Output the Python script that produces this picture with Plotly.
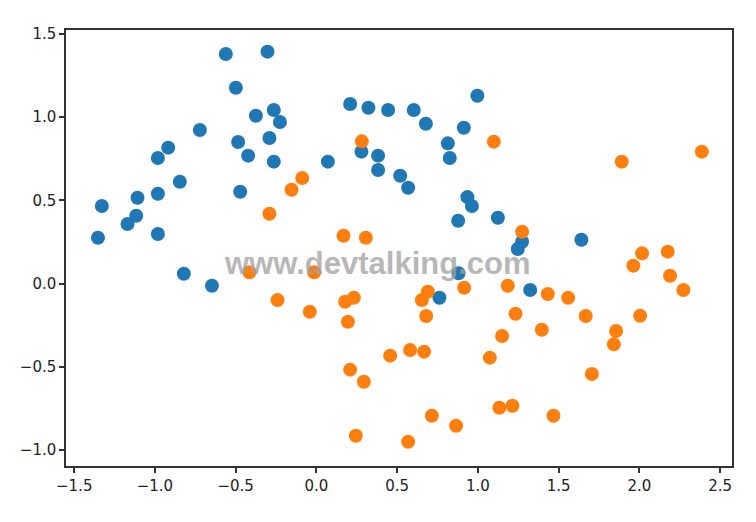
import plotly.graph_objects as go

blue_x = [-0.561, -0.303, -0.499, 0.209, 0.322, 0.444, -0.375, -0.264, -0.226, -0.722,
          -0.485, -0.291, -0.423, -0.264, 0.071, 0.279, 0.382, 0.382, 0.519, -0.918,
          -0.982, -0.846, -0.472, -0.982, -1.108, -1.329, -1.116, -1.170, -1.353, -0.982,
          0.997, 0.603, 0.678, 0.913, 0.814, 0.826, 0.568, 0.935, 0.963, 0.878,
          1.124, 1.274, 1.247, 1.641, 0.880, 0.762, 1.324, -0.821, -0.647]
blue_y = [1.380, 1.394, 1.177, 1.079, 1.057, 1.043, 1.009, 1.043, 0.971, 0.923,
          0.851, 0.875, 0.769, 0.733, 0.733, 0.793, 0.769, 0.683, 0.648, 0.817,
          0.755, 0.612, 0.552, 0.540, 0.516, 0.466, 0.408, 0.358, 0.276, 0.298,
          1.129, 1.043, 0.961, 0.937, 0.843, 0.755, 0.576, 0.520, 0.466, 0.378,
          0.396, 0.252, 0.208, 0.264, 0.062, -0.085, -0.038, 0.059, -0.013]

orange_x = [0.281, -0.088, -0.154, -0.291, 0.168, 0.306, 1.099, 1.891, 2.387, 1.274,
            2.017, 2.176, 1.963, 2.190, 2.273, 2.005, 0.690, 0.653, 0.680, 0.915,
            1.185, 1.433, 1.559, 1.233, 1.668, 1.396, 1.150, 1.856, 1.842, 0.457,
            0.580, 0.667, 1.074, 1.706, 1.133, 1.214, 1.468, 0.715, 0.865, 0.568,
            -0.415, -0.014, -0.241, -0.041, 0.178, 0.232, 0.195, 0.209, 0.294, 0.244]
orange_y = [0.855, 0.635, 0.564, 0.420, 0.288, 0.276, 0.853, 0.733, 0.793, 0.312,
            0.182, 0.192, 0.108, 0.047, -0.038, -0.193, -0.049, -0.099, -0.195, -0.025,
            -0.013, -0.063, -0.085, -0.181, -0.195, -0.277, -0.315, -0.285, -0.365, -0.433,
            -0.399, -0.409, -0.445, -0.543, -0.746, -0.734, -0.794, -0.794, -0.854, -0.950,
            0.068, 0.068, -0.099, -0.169, -0.109, -0.085, -0.229, -0.517, -0.590, -0.914]

x_ticks = [-1.5, -1.0, -0.5, 0.0, 0.5, 1.0, 1.5, 2.0, 2.5]
y_ticks = [-1.0, -0.5, 0.0, 0.5, 1.0, 1.5]

fig = go.Figure()
fig.add_trace(go.Scatter(x=blue_x, y=blue_y, mode="markers",
                         marker=dict(color="#1f77b4", size=14, line=dict(width=0))))
fig.add_trace(go.Scatter(x=orange_x, y=orange_y, mode="markers",
                         marker=dict(color="#ff7f0e", size=14, line=dict(width=0))))

axis_common = dict(showgrid=False, zeroline=False, showline=True, linecolor="#333333",
                   linewidth=1.5, mirror=True, ticks="outside", ticklen=5,
                   tickcolor="#333333", tickwidth=1.5, tickformat=".1f",
                   tickfont=dict(family="DejaVu Sans", size=15, color="#222222"))

fig.update_xaxes(range=[-1.551, 2.574], tickvals=x_ticks, **axis_common)
fig.update_yaxes(range=[-1.096, 1.524], tickvals=y_ticks, **axis_common)

fig.add_annotation(x=0.376, y=0.118, xref="x", yref="y", text="<b>www.devtalking.com</b>",
                   showarrow=False,
                   font=dict(family="Liberation Sans", size=31, color="rgba(160,160,160,0.75)"))

fig.update_layout(width=748, height=514, showlegend=False,
                  plot_bgcolor="white", paper_bgcolor="white",
                  margin=dict(l=58, r=24, t=22, b=56))

fig.write_html("out.html")
